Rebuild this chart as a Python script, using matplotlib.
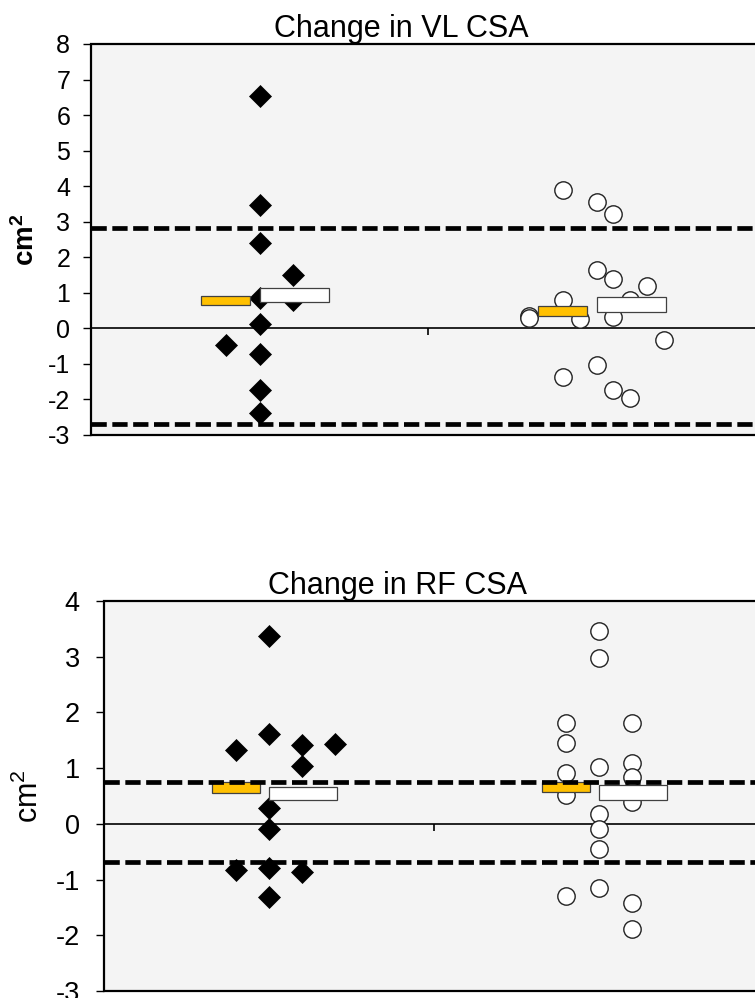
import numpy as np
import matplotlib
matplotlib.use("Agg")
import matplotlib.pyplot as plt

plt.rcParams['font.family'] = ['Liberation Sans', 'DejaVu Sans']
plt.rcParams['lines.scale_dashes'] = False
plt.rcParams['axes.unicode_minus'] = False
plt.rcParams['mathtext.fontset'] = 'custom'
plt.rcParams['mathtext.rm'] = 'Liberation Sans'
plt.rcParams['mathtext.bf'] = 'Liberation Sans:bold'
plt.rcParams['mathtext.it'] = 'Liberation Sans:italic'

# ---- data ----
# VL CSA, group 1 (diamonds): x offset from category centre, value
vl_g1_off = [0, 0, 0, 0, 0, 0, 0, 0, 0.1, 0.1, -0.1]
vl_g1_val = [6.55, 3.47, 2.40, 0.85, 0.13, -0.71, -1.73, -2.38, 1.49, 0.79, -0.46]
# VL CSA, group 2 (open circles)
vl_g2_off = [-0.1, 0, 0.05, 0, 0.05, 0.15, 0.1, -0.1, -0.2, -0.2, -0.05, 0.05, 0.2,
             -0.1, 0, 0.05, 0.1]
vl_g2_val = [3.89, 3.56, 3.23, 1.63, 1.38, 1.18, 0.79, 0.81, 0.35, 0.28, 0.25, 0.32, -0.32,
             -1.37, -1.04, -1.72, -1.96]
# mean boxes (bottom, top) for orange / white, per group
vl_orange = [(0.65, 0.91), (0.35, 0.63)]
vl_white = [(0.74, 1.13), (0.46, 0.87)]
vl_limits = [2.83, -2.68]

# RF CSA
rf_g1_off = [0, 0, -0.1, 0.1, 0.2, 0.1, 0, 0, -0.1, 0, 0.1, 0]
rf_g1_val = [3.37, 1.61, 1.32, 1.42, 1.43, 1.04, 0.28, -0.10, -0.82, -0.79, -0.87, -1.31]
rf_g2_off = [0, 0, -0.1, -0.1, 0.1, 0, 0.1, 0.1, -0.1, -0.1, 0.1, 0, 0, 0,
             -0.1, 0, 0.1, 0.1]
rf_g2_val = [3.46, 2.97, 1.81, 1.46, 1.81, 1.02, 1.09, 0.84, 0.91, 0.51, 0.40, 0.17,
             -0.10, -0.46, -1.30, -1.15, -1.42, -1.89]
rf_orange = [(0.56, 0.75), (0.58, 0.76)]
rf_white = [(0.42, 0.66), (0.43, 0.69)]
rf_limits = [0.76, -0.69]

W, H = 755, 998
fig = plt.figure(figsize=(W / 100, H / 100), dpi=100)


def panel(rect, title, title_x, g1_off, g1_val, g2_off, g2_val, orange, white,
          limits, ylim, ylabel, tick_fs, tick_pad, ylab_fs):
    ax = fig.add_axes(rect)
    ax.set_facecolor('#f4f4f4')
    ax.patch.set_edgecolor('black')
    ax.patch.set_linewidth(1.6)
    for s in ['top', 'right', 'left']:
        ax.spines[s].set_visible(False)
    ax.spines['bottom'].set_position(('data', 0))
    ax.spines['bottom'].set_linewidth(1.2)
    ax.set_xlim(0.5, 2.5)
    ax.set_ylim(*ylim)

    ax.plot(1 + np.array(g1_off), g1_val, 'D', color='black', ms=11.5,
            mew=0.5, zorder=3, clip_on=False)
    ax.plot(2 + np.array(g2_off), g2_val, 'o', mfc='white', mec='#222222',
            ms=12.5, mew=1.0, zorder=3)

    cats = np.array([1, 2])
    ob = np.array([o[0] for o in orange])
    ot = np.array([o[1] for o in orange])
    wb = np.array([w[0] for w in white])
    wt = np.array([w[1] for w in white])
    ax.bar(cats - 0.173, ot - ob, bottom=ob, width=0.146, align='edge',
           color='#ffc000', edgecolor='#404040', linewidth=0.9, zorder=4)
    ax.bar(cats, wt - wb, bottom=wb, width=0.205, align='edge',
           color='white', edgecolor='#404040', linewidth=0.9, zorder=4)

    for lim in limits:
        ax.axhline(lim, color='black', lw=3.4, dashes=(11, 4), zorder=5)

    ax.set_xticks([0.5, 1.5, 2.5])
    ax.set_xticklabels([])
    ax.tick_params(axis='x', direction='out', length=5, width=1.2)
    ax.set_yticks(range(int(ylim[0]), int(ylim[1]) + 1))
    ax.tick_params(axis='y', direction='out', length=6, width=1.0,
                   labelsize=tick_fs, pad=tick_pad)
    ax.set_ylabel(ylabel, fontsize=ylab_fs)
    ax.set_title(title, fontsize=22, x=title_x, pad=5)
    return ax


ax1 = panel([91 / W, 1 - 435 / H, 674 / W, 391 / H], 'Change in VL CSA', 0.461,
            vl_g1_off, vl_g1_val, vl_g2_off, vl_g2_val, vl_orange, vl_white,
            vl_limits, (-3, 8), r'$\mathbf{cm}^\mathbf{2}$', 18, 9, 20)
ax1.yaxis.set_label_coords(-0.076, 0.5)

ax2 = panel([104 / W, 1 - 991 / H, 660 / W, 390 / H], 'Change in RF CSA', 0.445,
            rf_g1_off, rf_g1_val, rf_g2_off, rf_g2_val, rf_orange, rf_white,
            rf_limits, (-3, 4), r'$\mathrm{cm}^\mathrm{2}$', 19.5, 11.5, 22)
ax2.yaxis.set_label_coords(-0.09, 0.5)

fig.savefig('out.png', dpi=100)
